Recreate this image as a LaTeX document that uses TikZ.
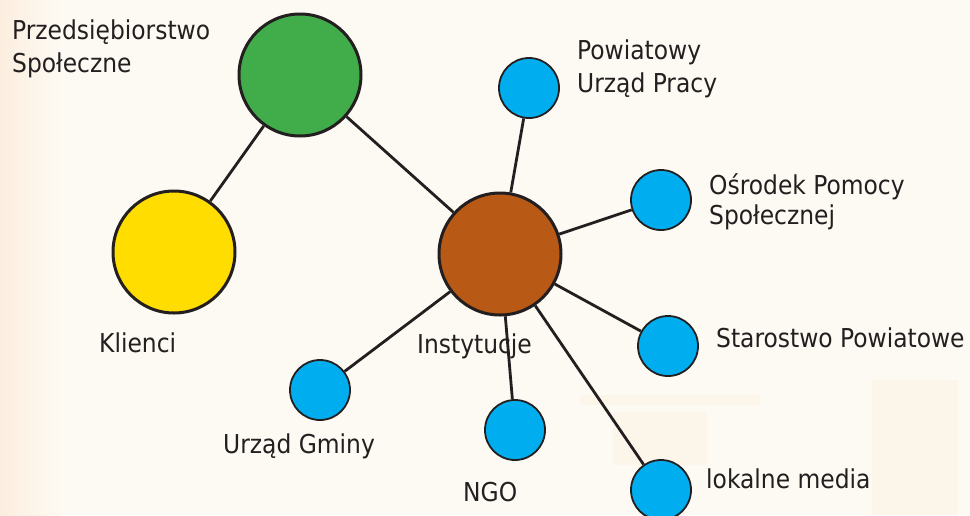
\documentclass[tikz,border=0pt]{standalone}
\usepackage{fontspec}
\setmainfont{DejaVu Sans Condensed}
\definecolor{bgc}{HTML}{FDFAF3}
\definecolor{bgl}{HTML}{FCEEDF}
\definecolor{ink}{HTML}{231F20}
\definecolor{cgreen}{HTML}{41AD4A}
\definecolor{cyellow}{HTML}{FFDD00}
\definecolor{cbrown}{HTML}{B85916}
\definecolor{cblue}{HTML}{00AEEF}
\definecolor{faint}{HTML}{FCF6EA}
\begin{document}
\begin{tikzpicture}[x=1pt,y=-1pt,
  big/.style={circle,draw=ink,line width=3pt,minimum size=122pt,inner sep=0pt},
  small/.style={circle,draw=ink,fill=cblue,line width=1.8pt,minimum size=60pt,inner sep=0pt},
  lbl/.style={anchor=base west,inner sep=0pt,text=ink,font=\fontsize{26}{33}\selectfont,align=left},
  link/.style={draw=ink,line width=2.8pt}]
\useasboundingbox (0,0) rectangle (970,515);
\fill[bgc] (0,0) rectangle (970,515);
\shade[left color=bgl,right color=bgc] (0,0) rectangle (60,515);
% faint background building
\fill[faint] (613,412) rectangle (707,465);
\fill[faint] (872,380) rectangle (958,515);
\fill[faint] (580,395) rectangle (760,405);
% circles
\node[big,fill=cgreen] (ps) at (300,75) {};
\node[big,fill=cyellow] (kl) at (174,252) {};
\node[big,fill=cbrown] (in) at (500,254) {};
\node[small] (pup) at (529,88) {};
\node[small] (ops) at (661,200) {};
\node[small] (sp) at (668,346) {};
\node[small] (lm) at (661,490) {};
\node[small] (ngo) at (515,430) {};
\node[small] (ug) at (320,390) {};
% connectors
\path[link] (ps) -- (kl);
\path[link] (ps) -- (in);
\foreach \t in {pup,ops,sp,lm,ngo,ug} \path[link] (in) -- (\t);
% labels
\node[lbl] (tps) at (12,72) {Przedsiębiorstwo\\Społeczne};
\node[lbl] (tpup) at (577,92) {Powiatowy\\Urząd Pracy};
\node[lbl,font=\fontsize{26}{30}\selectfont] (tops) at (709,224) {Ośrodek Pomocy\\Społecznej};
\node[lbl] (tsp) at (716,347) {Starostwo Powiatowe};
\node[lbl] (tlm) at (706,488) {lokalne media};
\node[lbl] (tngo) at (463,501) {NGO};
\node[lbl] (tug) at (223,453) {Urząd Gminy};
\node[lbl] (tkl) at (99,352) {Klienci};
\node[lbl] (tin) at (417,353) {Instytucje};
\end{tikzpicture}
\end{document}
